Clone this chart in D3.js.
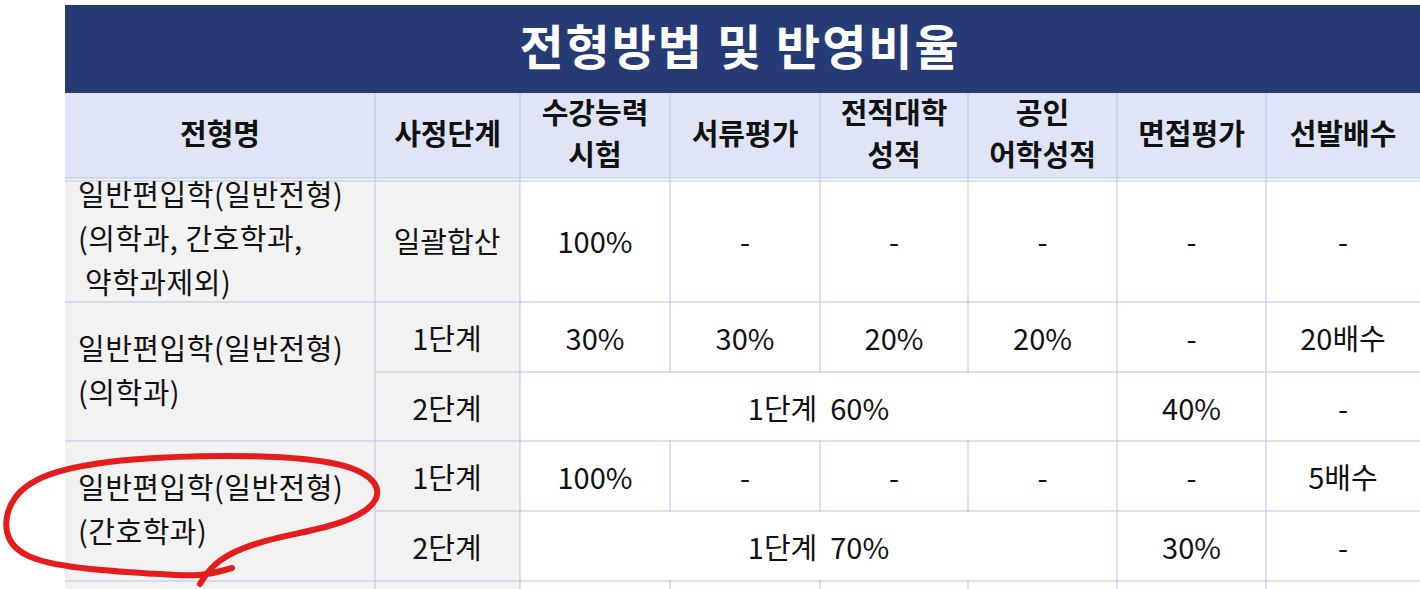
<!DOCTYPE html>
<html><head><meta charset="utf-8">
<script src="https://cdn.jsdelivr.net/npm/d3@7"></script>
<style>body{margin:0;background:#fff}text{font-family:"Noto Sans CJK KR","Noto Sans",sans-serif}</style>
</head><body><svg id="c" width="1420" height="589"></svg>
<script>
var title = "전형방법 및 반영비율";
var headers = [["전형명"],["사정단계"],["수강능력","시험"],["서류평가"],["전적대학","성적"],["공인","어학성적"],["면접평가"],["선발배수"]];
var groupNames = [["일반편입학(일반전형)","(의학과,  간호학과,"," 약학과제외)"],["일반편입학(일반전형)","(의학과)"],["일반편입학(일반전형)","(간호학과)"]];
var groupRows = [1,2,2];
var stages = ["일괄합산","1단계","2단계","1단계","2단계"];
// null = merged into previous cell
var values = [
  ["100%","-","-","-","-","-"],
  ["30%","30%","20%","20%","-","20배수"],
  ["1단계  60%",null,null,null,"40%","-"],
  ["100%","-","-","-","-","5배수"],
  ["1단계  70%",null,null,null,"30%","-"]
];

var svg = d3.select("#c");
var colEdges = [65,375,520,670,820,968,1117,1266,1420];
var rowEdges = [178,302,372,441,511,581,620];
var grid = "#b7c2ea";

svg.append("rect").attr("x",65).attr("y",5).attr("width",1355).attr("height",88).attr("fill","#263a76");
svg.append("text").attr("x",740).attr("y",48).attr("dy","0.35em").attr("text-anchor","middle")
  .attr("fill","#fff").attr("font-size",48).attr("font-weight","bold").attr("letter-spacing",2).text(title);

// header
svg.append("rect").attr("x",65).attr("y",93).attr("width",1355).attr("height",85).attr("fill","#dfe5f6");
headers.forEach(function(h,i){
  var cx=(colEdges[i]+colEdges[i+1])/2;
  var t=svg.append("text").attr("text-anchor","middle").attr("font-size",29).attr("font-weight","bold").attr("fill","#111");
  h.forEach(function(line,j){
    t.append("tspan").attr("x",cx).attr("y",135+(j-(h.length-1)/2)*42).attr("dy","0.35em").text(line);
  });
});

// gray columns
svg.append("rect").attr("x",65).attr("y",178).attr("width",455).attr("height",411).attr("fill","#f2f2f2");

// body lines
var g=svg.append("g").attr("stroke",grid).attr("stroke-width",1);
[178,181].forEach(function(y){g.append("line").attr("x1",65).attr("x2",1420).attr("y1",y).attr("y2",y);});
var r0=0;
groupRows.forEach(function(n){ r0+=n; g.append("line").attr("x1",65).attr("x2",1420).attr("y1",rowEdges[r0]).attr("y2",rowEdges[r0]);});
[2,4].forEach(function(r){ g.append("line").attr("x1",375).attr("x2",1420).attr("y1",rowEdges[r]).attr("y2",rowEdges[r]);});
colEdges.slice(1,-1).forEach(function(x,i){
  g.append("line").attr("x1",x).attr("x2",x).attr("y1",93).attr("y2",589)
});
// mask lines inside merged cells
values.forEach(function(row,r){
  if(row[1]===null){
    svg.append("rect").attr("x",colEdges[2]+1).attr("y",rowEdges[r]+1).attr("width",colEdges[6]-colEdges[2]-2)
      .attr("height",rowEdges[r+1]-rowEdges[r]-2).attr("fill","#fff");
  }
});

// group names
var start=0;
groupNames.forEach(function(lines,i){
  var y0=rowEdges[start], y1=rowEdges[start+groupRows[i]];
  var cy=(y0+y1)/2;
  var t=svg.append("text").attr("font-size",29).attr("fill","#111").attr("letter-spacing",0.5);
  lines.forEach(function(line,j){
    t.append("tspan").attr("x",78).attr("y",cy+(j-(lines.length-1)/2)*44).attr("dy","0.35em").text(line);
  });
  start+=groupRows[i];
});

stages.forEach(function(s,r){
  svg.append("text").attr("x",447).attr("y",(rowEdges[r]+rowEdges[r+1])/2+3).attr("dy","0.35em")
    .attr("text-anchor","middle").attr("font-size",29).attr("fill","#111").text(s);
});

values.forEach(function(row,r){
  row.forEach(function(v,c){
    if(v===null) return;
    var x0=colEdges[c+2], x1=colEdges[c+3];
    if(row[c+1]===null){ var k=c+1; while(row[k]===null) k++; x1=colEdges[k+2]; }
    svg.append("text").attr("x",(x0+x1)/2).attr("y",(rowEdges[r]+rowEdges[r+1])/2+3).attr("dy","0.35em")
      .attr("text-anchor","middle").attr("font-size",29).attr("fill","#111").attr("xml:space","preserve").text(v);
  });
});

// red hand-drawn circle
var loop=[[232,568],[200,577],[160,574],[90,570],[25,560],[2,535],[10,495],[50,470],[130,458],[230,455],[310,458],[360,468],[382,488],[372,510],[330,528],[260,540],[215,560],[200,584]];
svg.append("path").attr("d",d3.line().curve(d3.curveBasis)(loop)).attr("fill","none")
  .attr("stroke","#e41c1c").attr("stroke-width",6).attr("stroke-linecap","round");
</script></body></html>
